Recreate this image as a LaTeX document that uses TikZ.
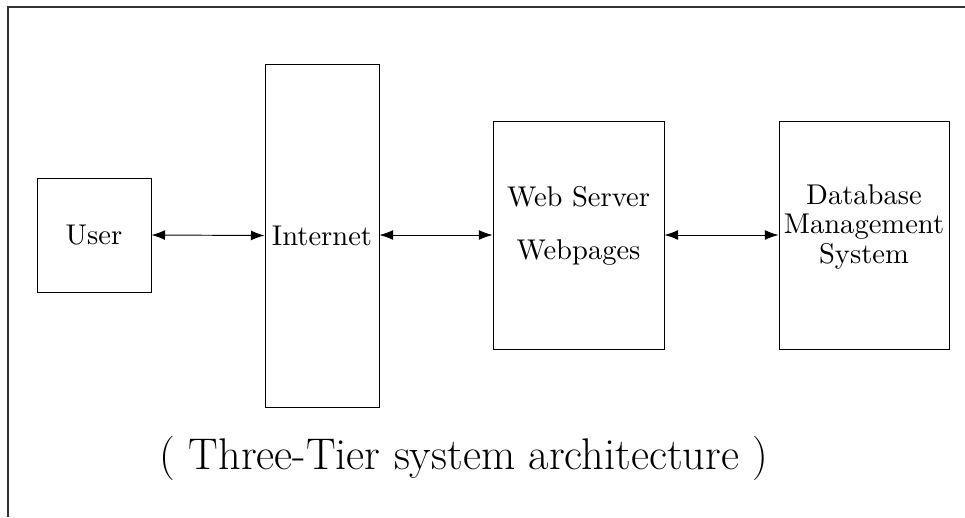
\documentclass[tikz,border=0pt]{standalone}
\usetikzlibrary{arrows.meta}
\begin{document}
\begin{tikzpicture}[x=0.3676pt,y=-0.3676pt,
  blk/.style={draw,line width=0.3pt,inner sep=0pt,font=\fontsize{10.5}{12}\selectfont,align=center},
  conn/.style={{Latex[length=5pt,width=3.6pt]}-{Latex[length=5pt,width=3.6pt]},line width=0.35pt}]
\useasboundingbox (0,0) rectangle (965,517);
\draw[line width=0.7pt,black!80] (8,517) -- (8,7) -- (965,7);
\node[blk,minimum width=114*0.3676pt,minimum height=114*0.3676pt] (user) at (94,235) {User};
\node[blk,minimum width=114*0.3676pt,minimum height=343*0.3676pt] (inet) at (322,235.5) {Internet};
\node[blk,minimum width=171*0.3676pt,minimum height=228*0.3676pt] (web) at (578.5,235) {};
\node[font=\fontsize{10.5}{12}\selectfont] (webt1) at (578.5,197) {Web Server};
\node[font=\fontsize{10.5}{12}\selectfont] (webt2) at (578.5,253) {Webpages};
\node[blk,minimum width=170*0.3676pt,minimum height=228*0.3676pt] (db) at (864,235) {};
\node[font=\fontsize{10.5}{11}\selectfont,align=center] (dbt) at (864,227) {Database\\Management\\System};
\draw[conn] (user.east) -- (inet.west);
\draw[conn] (inet.east |- 0,235) -- (web.west);
\draw[conn] (web.east) -- (db.west);
\node[font=\fontsize{16.3}{19}\selectfont] (title) at (464,458) {( Three-Tier system architecture )};
\end{tikzpicture}
\end{document}
